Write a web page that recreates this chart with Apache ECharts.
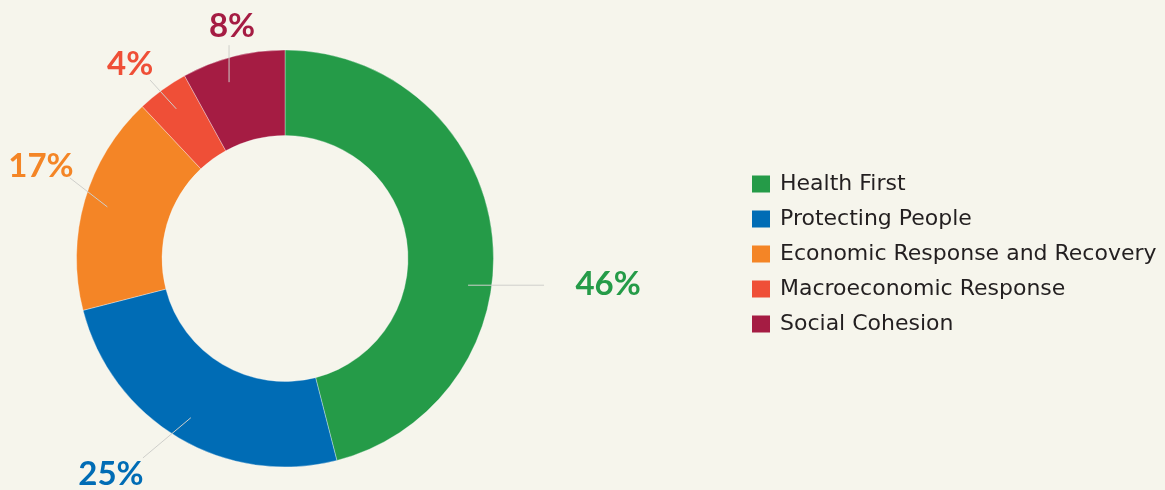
<!DOCTYPE html>
<html>
<head>
<meta charset="utf-8">
<script src="https://cdn.jsdelivr.net/npm/echarts@6/dist/echarts.min.js"></script>
<style>
    html, body { margin: 0; padding: 0; background: #f6f5ec; }
    #chart { width: 1165px; height: 490px; }
</style>
</head>
<body>
<div id="chart"></div>
<script>
    // share of spending by pillar (%)
    var categories = ['Health First', 'Protecting People', 'Economic Response and Recovery', 'Macroeconomic Response', 'Social Cohesion'];
    var shares = [46, 25, 17, 4, 8];

    var colors = ['#259b48', '#006cb5', '#f48526', '#ef4f37', '#a51c43'];
    var ringCenter = [285, 258.5];
    // guide lines: turn of the start point around the ring (deg), direction (deg, screen) and length,
    // then label centre offset from the line end
    var startTurn = [15.5, 0, 0, 0, -3.2];
    var lineAngle = [0, 140, 217.7, 227.7, 270];
    var lineLength = [76, 62.5, 47.3, 38.9, 37];
    var labelShift = [[64, -1], [-32, 16], [-29, -11.5], [-20, -16], [3, -19]];

    function turn(p, deg) {
        var a = deg * Math.PI / 180;
        var dx = p[0] - ringCenter[0], dy = p[1] - ringCenter[1];
        return [ringCenter[0] + dx * Math.cos(a) - dy * Math.sin(a),
                ringCenter[1] + dx * Math.sin(a) + dy * Math.cos(a)];
    }

    var myChart = echarts.init(document.getElementById('chart'));

    myChart.setOption({
        backgroundColor: '#f6f5ec',
        animation: false,
        color: colors,
        legend: {
            orient: 'vertical',
            left: 747,
            top: 168,
            itemWidth: 18,
            itemHeight: 17,
            itemGap: 13,
            icon: 'rect',
            itemStyle: { borderWidth: 0 },
            data: categories,
            textStyle: {
                fontFamily: 'DejaVu Sans',
                fontSize: 22,
                color: '#231f20',
                padding: [0, 0, 0, 5]
            }
        },
        series: [{
                name: 'ring',
                type: 'pie',
                center: ringCenter,
                radius: [123, 208.5],
                startAngle: 90,
                clockwise: true,
                silent: true,
                label: { show: false },
                labelLine: { show: false },
                itemStyle: {
                    borderColor: 'rgba(255,255,255,0.55)',
                    borderWidth: 0.6
                },
                data: categories.map(function (name, i) {
                    return { name: name, value: shares[i] };
                })
            },
            {
                // invisible pie, only carries the percent labels and guide lines
                name: 'labels',
                type: 'pie',
                z: 3,
                center: ringCenter,
                radius: [0, 185],
                startAngle: 90,
                clockwise: true,
                silent: true,
                avoidLabelOverlap: false,
                itemStyle: { color: 'rgba(0,0,0,0)', borderWidth: 0 },
                label: {
                    show: true,
                    position: 'outside',
                    formatter: '{c}%',
                    fontFamily: 'Lato',
                    fontWeight: 'bold',
                    fontSize: 33
                },
                labelLine: {
                    show: true,
                    length: 10,
                    length2: 0,
                    lineStyle: { color: '#cfcfcb', width: 1 }
                },
                labelLayout: function (params) {
                    var i = params.dataIndex;
                    var start = turn(params.labelLinePoints[0], startTurn[i]);
                    var a = lineAngle[i] * Math.PI / 180;
                    var end = [start[0] + Math.cos(a) * lineLength[i], start[1] + Math.sin(a) * lineLength[i]];
                    return {
                        x: end[0] + labelShift[i][0],
                        y: end[1] + labelShift[i][1],
                        align: 'center',
                        verticalAlign: 'middle',
                        labelLinePoints: [start, end]
                    };
                },
                data: categories.map(function (name, i) {
                    return { name: name, value: shares[i], label: { color: colors[i] } };
                })
            }
        ]
    });
</script>
</body>
</html>
